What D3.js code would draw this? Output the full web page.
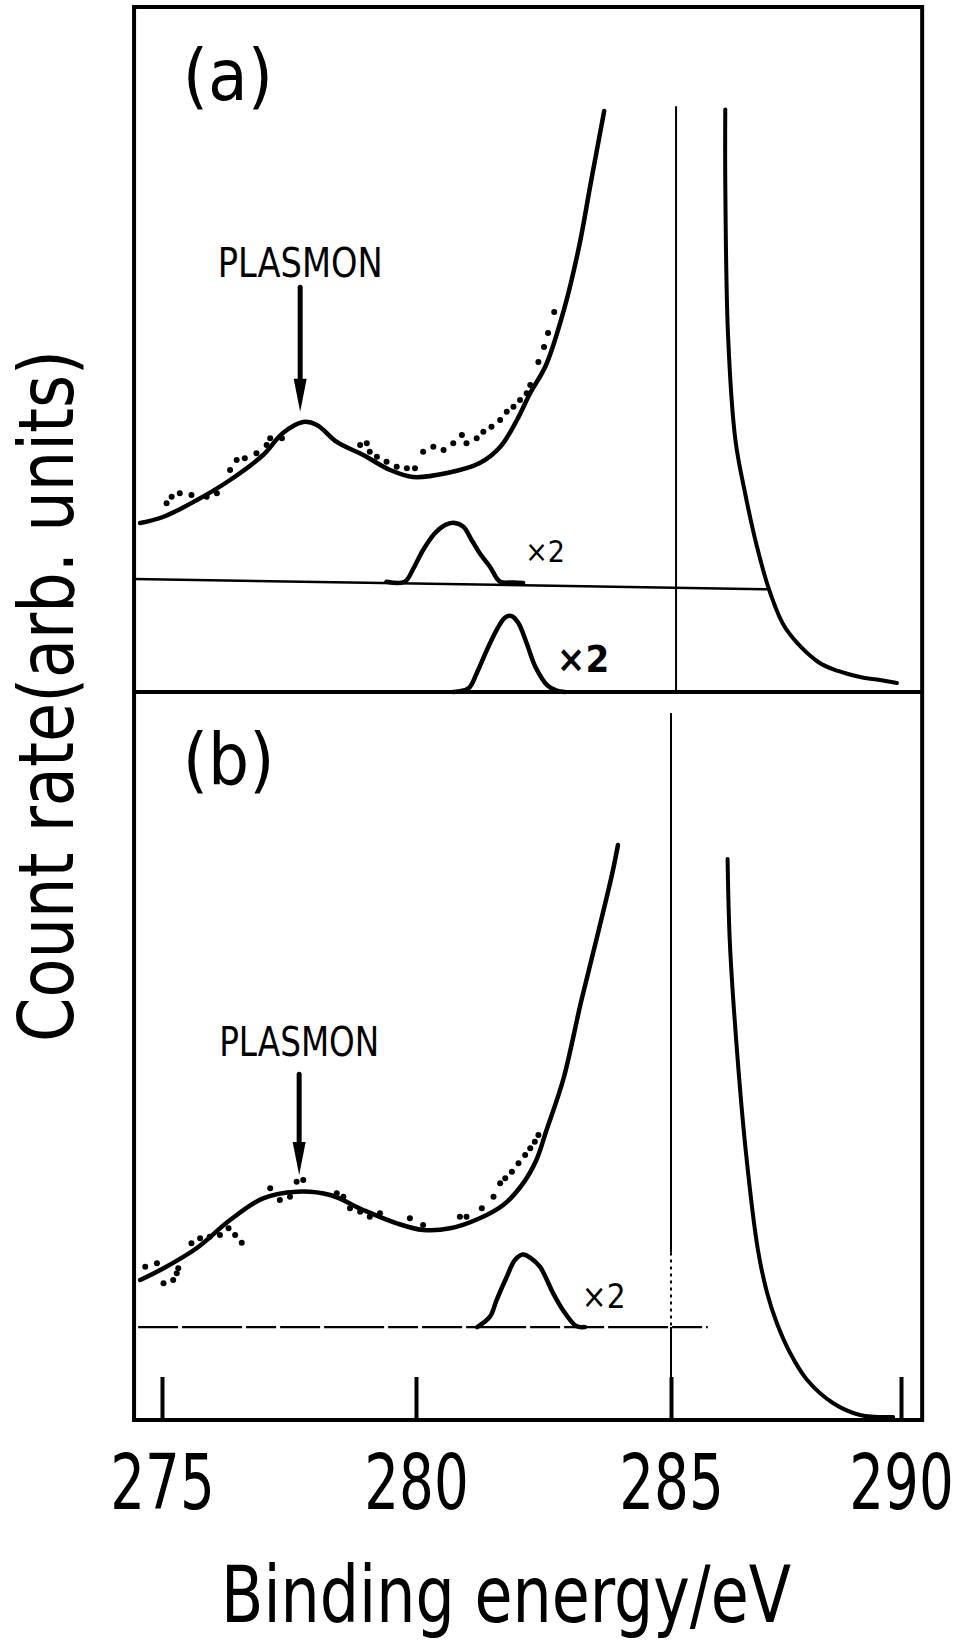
<!DOCTYPE html>
<html><head><meta charset="utf-8">
<script src="https://cdn.jsdelivr.net/npm/d3@7"></script>
<style>
html,body{margin:0;padding:0;background:#fff;}
svg{display:block;background:#fff;}
text{font-family:"Liberation Sans Narrow","DejaVu Sans Condensed","Roboto Condensed",sans-serif;fill:#000;}
</style></head><body>
<svg id="chart" width="959" height="1643"></svg>
<script>
// ---------- data ----------
const energyTicks = [275, 280, 285, 290];
const tickLabels = ["275", "280", "285", "290"];
const energyExtent = [274.45, 290.46];
const xTitle = "Binding energy/eV";
const yTitle = "Count rate(arb. units)";
const panelLabels = ["(a)", "(b)"];
const peakLabel = "PLASMON";
const scaleLabel = "\u00d72";

// panel (a)
const fitA = [[274.57,24.67],[275.02,25.55],[275.69,28.03],[276.34,30.95],[276.99,34.60],[277.38,37.81],[277.78,39.42],[278.05,38.98],[278.44,36.50],[278.96,34.60],[279.49,32.41],[279.94,31.39],[280.61,31.97],[281.25,33.43],[281.65,35.77],[281.98,39.71],[282.24,43.65],[282.55,47.74],[282.90,55.77],[283.20,65.11],[283.43,74.45],[283.69,84.82]];
const dotsA = [[275.09,27.55],[275.19,28.51],[275.35,29.01],[275.58,28.76],[275.88,28.51],[276.08,29.01],[276.34,32.41],[276.47,33.87],[276.63,34.12],[276.86,34.85],[277.06,36.06],[277.13,37.04],[277.36,37.04],[278.90,36.06],[279.03,36.31],[279.09,35.08],[279.23,34.35],[279.42,33.62],[279.62,32.89],[279.82,32.66],[279.98,32.66],[280.14,35.08],[280.34,35.81],[280.54,35.33],[280.73,36.31],[280.90,37.52],[280.99,36.31],[281.19,37.04],[281.32,38.00],[281.48,38.73],[281.65,39.71],[281.78,40.92],[281.91,41.65],[282.04,42.63],[282.17,43.61],[282.24,44.82],[282.40,48.18],[282.51,50.36],[282.59,52.41],[282.71,55.47]];
const peakA1 = [[279.42,16.1],[279.78,16.1],[279.95,18.06],[280.14,20.73],[280.37,23.17],[280.57,24.38],[280.73,24.72],[280.93,24.13],[281.09,22.19],[281.25,20.25],[281.45,18.29],[281.65,16.1],[281.91,16.0],[282.10,15.9]];
const baseA1 = [[274.45,16.5],[287.10,15.0]];
const peakA2 = [[280.73,0],[281.03,0.54],[281.19,2.73],[281.39,6.13],[281.58,9.05],[281.75,10.91],[281.88,11.09],[282.01,10.03],[282.17,7.11],[282.34,3.69],[282.57,1.02],[282.76,0.19],[282.92,0]];
const tailA = [[286.18,85.04],[286.18,74.45],[286.24,52.1],[286.40,36.8],[286.61,29.05],[286.86,21.46],[287.15,14.6],[287.50,9.2],[288.20,4.38],[288.63,3.07],[289.11,2.19],[289.54,1.75],[289.91,1.31]];
const refLineA = [[285.11,85.4],[285.11,0]];

// panel (b)
const fitB = [[274.57,19.23],[275.03,20.84],[275.68,23.59],[276.34,27.47],[276.99,30.45],[277.65,31.36],[278.31,30.91],[278.96,28.85],[279.62,27.02],[280.14,26.10],[280.67,26.33],[281.25,27.71],[281.71,29.53],[282.10,32.51],[282.36,35.71],[282.56,39.84],[282.89,46.84],[283.24,57.55],[283.55,66.35],[283.85,75.14],[283.96,78.98]];
const dotsB = [[274.67,21.06],[274.90,21.52],[275.03,18.78],[275.22,19.23],[275.32,20.84],[275.29,20.15],[275.58,24.27],[275.75,24.96],[275.94,25.18],[276.14,25.41],[276.31,26.33],[276.44,25.41],[276.57,24.35],[277.13,31.83],[277.32,30.22],[277.52,30.67],[277.65,32.73],[277.78,32.97],[278.44,31.14],[278.57,30.67],[278.70,29.08],[278.90,28.61],[279.09,27.93],[279.29,28.39],[279.88,27.71],[280.14,26.79],[280.86,27.93],[280.99,27.93],[281.29,29.08],[281.52,30.67],[281.65,32.51],[281.75,33.20],[281.88,34.11],[282.01,35.26],[282.14,36.40],[282.24,37.32],[282.33,38.23],[282.40,39.15]];
const peakB = [[281.20,12.77],[281.45,14.19],[281.58,16.48],[281.78,19.68],[281.94,21.98],[282.10,22.72],[282.25,22.25],[282.43,21.06],[282.69,17.40],[282.88,15.11],[283.14,12.91],[283.31,12.77]];
const baseB = [[274.53,12.77],[285.80,12.77]];
const tailB = [[286.23,77.06],[286.28,65.52],[286.43,51.10],[286.63,36.68],[286.89,23.35],[287.09,17.45],[287.30,13.32],[287.59,9.20],[287.96,5.49],[288.52,2.34],[289.11,0.69],[289.83,0.41]];
const refLineB = [285.0, 97.1, 0];

// annotation anchors (energy, value)
const plasmonE = [277.72, 277.70];
const arrowA = [59.1, 40.9];
const arrowB = [47.5, 33.65];

// ---------- drawing ----------
const svg = d3.select("#chart");
const x = d3.scaleLinear().domain(energyTicks).range([162, 416, 671, 901]);
const yA = d3.scaleLinear().domain([0, 100]).range([692, 7]);
const yB = d3.scaleLinear().domain([0, 100]).range([1420, 692]);

const smooth = y => d3.line().x(d => x(d[0])).y(d => y(d[1])).curve(d3.curveCatmullRom.alpha(0.5));
const straight = y => d3.line().x(d => x(d[0])).y(d => y(d[1]));

function path(data, gen, w, dash) {
  const p = svg.append("path").attr("d", gen(data)).attr("fill", "none")
    .attr("stroke", "#000").attr("stroke-width", w)
    .attr("stroke-linecap", "round").attr("stroke-linejoin", "round");
  if (dash) p.attr("stroke-dasharray", dash).attr("stroke-linecap", "butt");
  return p;
}

// reference vertical lines
path(refLineA, straight(yA), 2);
const vb = refLineB;
svg.append("line").attr("x1", x(vb[0])).attr("x2", x(vb[0])).attr("y1", yB(vb[1])).attr("y2", yB(23)).attr("stroke", "#000").attr("stroke-width", 2);
svg.append("line").attr("x1", x(vb[0])).attr("x2", x(vb[0])).attr("y1", yB(23)).attr("y2", yB(12.77)).attr("stroke", "#000").attr("stroke-width", 2).attr("stroke-dasharray", "3,4");
svg.append("line").attr("x1", x(vb[0])).attr("x2", x(vb[0])).attr("y1", yB(12.77)).attr("y2", yB(vb[2])).attr("stroke", "#000").attr("stroke-width", 2);

// baselines
path(baseA1, straight(yA), 2.5);
path(baseB, straight(yB), 2.2, "40,4,60,4,30,4");

// curves panel a
path(fitA, smooth(yA), 4.5);
path(peakA1, smooth(yA), 4.5);
path(peakA2, smooth(yA), 4.5);
path(tailA, smooth(yA), 4);
svg.append("g").selectAll("circle").data(dotsA).join("circle")
  .attr("cx", d => x(d[0])).attr("cy", d => yA(d[1])).attr("r", 3).attr("fill", "#000");

// curves panel b
path(fitB, smooth(yB), 4.5);
path(peakB, smooth(yB), 4.5);
path(tailB, smooth(yB), 4);
svg.append("g").selectAll("circle").data(dotsB).join("circle")
  .attr("cx", d => x(d[0])).attr("cy", d => yB(d[1])).attr("r", 3).attr("fill", "#000");

// frame
const fx0 = x(energyExtent[0]), fx1 = x(energyExtent[1]);
svg.append("rect").attr("x", fx0).attr("y", yA(100)).attr("width", fx1 - fx0).attr("height", yB(0) - yA(100))
  .attr("fill", "none").attr("stroke", "#000").attr("stroke-width", 4);
svg.append("line").attr("x1", fx0).attr("x2", fx1).attr("y1", yA(0)).attr("y2", yA(0))
  .attr("stroke", "#000").attr("stroke-width", 4);

// x axis (ticks inward)
const axis = d3.axisBottom(x).tickValues(energyTicks).tickFormat((d, i) => tickLabels[i])
  .tickSizeInner(-43).tickSizeOuter(0).tickPadding(35);
const ag = svg.append("g").attr("transform", `translate(0,${yB(0)})`).call(axis);
ag.select(".domain").remove();
ag.selectAll(".tick line").attr("stroke", "#000").attr("stroke-width", 4);
ag.selectAll(".tick text").attr("font-size", 76).attr("font-family", null).attr("fill", "#000")
  .attr("transform", "scale(0.8,1)");

// axis titles
svg.append("text").attr("x", 506).attr("y", 1622).attr("text-anchor", "middle")
  .attr("font-size", 78).attr("textLength", 570).attr("lengthAdjust", "spacingAndGlyphs").text(xTitle);
svg.append("text").attr("transform", "translate(73,696) rotate(-90)").attr("text-anchor", "middle")
  .attr("font-size", 77).attr("textLength", 692).attr("lengthAdjust", "spacingAndGlyphs").text(yTitle);

// panel labels
svg.append("text").attr("x", x(275.41)).attr("y", yA(86.4)).attr("font-size", 72).text(panelLabels[0]);
svg.append("text").attr("x", x(275.41)).attr("y", yB(87.4)).attr("font-size", 72).text(panelLabels[1]);

// plasmon annotations
function arrow(e, y, v0, v1) {
  const xx = x(e), ys = y(v0), yt = y(v1);
  svg.append("line").attr("x1", xx).attr("x2", xx).attr("y1", ys).attr("y2", yt - 25)
    .attr("stroke", "#000").attr("stroke-width", 5).attr("stroke-linecap", "round");
  svg.append("path").attr("d", `M${xx - 6.5},${yt - 33}L${xx + 6.5},${yt - 33}L${xx},${yt}Z`).attr("fill", "#000");
}
svg.append("text").attr("x", x(plasmonE[0])).attr("y", yA(60.58)).attr("text-anchor", "middle")
  .attr("font-size", 40).attr("textLength", 165).attr("lengthAdjust", "spacingAndGlyphs").text(peakLabel);
arrow(plasmonE[0], yA, arrowA[0], arrowA[1]);
svg.append("text").attr("x", x(plasmonE[1])).attr("y", yB(50.0)).attr("text-anchor", "middle")
  .attr("font-size", 40).attr("textLength", 160).attr("lengthAdjust", "spacingAndGlyphs").text(peakLabel);
arrow(plasmonE[1], yB, arrowB[0], arrowB[1]);

// x2 labels
svg.append("text").attr("x", x(282.14)).attr("y", yA(18.98)).attr("font-size", 30).text(scaleLabel);
svg.append("text").attr("x", x(282.76)).attr("y", yA(2.92)).attr("font-size", 38).attr("font-weight", "bold").text(scaleLabel);
svg.append("text").attr("x", x(283.25)).attr("y", yB(15.38)).attr("font-size", 33).text(scaleLabel);
</script>
</body></html>
